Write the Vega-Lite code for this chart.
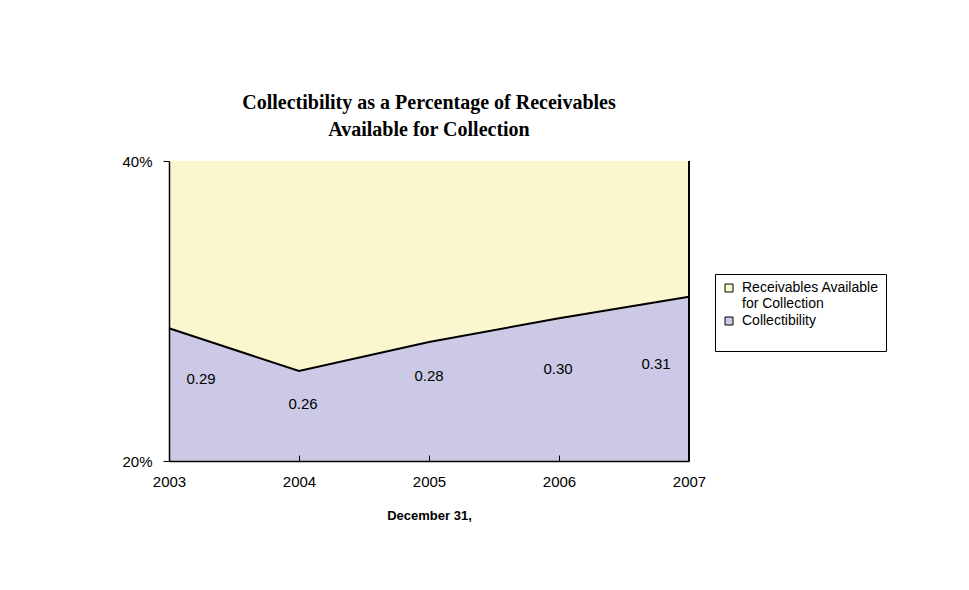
{
  "$schema": "https://vega.github.io/schema/vega-lite/v6.json",
  "width": 520,
  "height": 300,
  "autosize": {"type": "none"},
  "padding": {"left": 169, "top": 161, "right": 280, "bottom": 129},
  "background": "white",
  "config": {"view": {"stroke": null}},
  "title": {
    "text": ["Collectibility as a Percentage of Receivables", "Available for Collection"],
    "font": "Liberation Serif",
    "fontSize": 20,
    "fontWeight": "bold",
    "color": "black",
    "anchor": "middle",
    "frame": "group",
    "offset": 14,
    "lineHeight": 27
  },
  "data": {
    "values": [
      {"year": 2003, "collectibility": 0.2885, "label": "0.29"},
      {"year": 2004, "collectibility": 0.26, "label": "0.26"},
      {"year": 2005, "collectibility": 0.2793, "label": "0.28"},
      {"year": 2006, "collectibility": 0.2952, "label": "0.30"},
      {"year": 2007, "collectibility": 0.3095, "label": "0.31"}
    ]
  },
  "encoding": {
    "x": {
      "field": "year",
      "type": "quantitative",
      "scale": {"domain": [2003, 2007], "nice": false, "zero": false},
      "axis": {
        "values": [2003, 2004, 2005, 2006, 2007],
        "format": "d",
        "title": "December 31,",
        "titleFont": "Liberation Sans",
        "titleFontSize": 13,
        "titleFontWeight": "bold",
        "titleColor": "black",
        "titlePadding": 20,
        "labelFont": "Liberation Sans",
        "labelFontSize": 15,
        "labelColor": "black",
        "labelPadding": 19,
        "labelFlush": false,
        "tickColor": "black",
        "tickSize": -6,
        "domainColor": "black",
        "domainWidth": 1.5,
        "grid": false,
        "zindex": 1
      }
    }
  },
  "layer": [
    {
      "mark": {"type": "area", "opacity": 1},
      "encoding": {
        "y": {
          "field": "collectibility",
          "type": "quantitative",
          "scale": {"domain": [0.2, 0.4], "nice": false, "zero": false},
          "axis": {
            "values": [0.2, 0.4],
            "format": ".0%",
            "title": null,
            "labelFont": "Liberation Sans",
            "labelFontSize": 15,
            "labelColor": "black",
            "labelPadding": 11,
            "tickColor": "black",
            "tickSize": 6,
            "domainColor": "black",
            "domainWidth": 1.5,
            "grid": false,
            "zindex": 1
          }
        },
        "y2": {"datum": 0.4},
        "color": {
          "datum": "Receivables Available for Collection",
          "type": "nominal",
          "scale": {
            "domain": ["Receivables Available for Collection", "Collectibility"],
            "range": ["#FAF7CE", "#CBC9E5"]
          },
          "legend": {
            "title": null,
            "orient": "none",
            "legendX": 546,
            "legendY": 113,
            "strokeColor": "black",
            "fillColor": "white",
            "padding": 7,
            "symbolType": "square",
            "symbolSize": 64,
            "symbolStrokeColor": "black",
            "symbolStrokeWidth": 1,
            "symbolOpacity": 1,
            "labelFont": "Liberation Sans",
            "labelFontSize": 14,
            "labelColor": "black",
            "labelLimit": 300,
            "labelOffset": 6,
            "rowPadding": 3,
            "labelExpr": "datum.label == 'Receivables Available for Collection' ? ['Receivables Available\u00a0\u00a0\u00a0\u00a0\u00a0', 'for Collection'] : [datum.label, '\u00a0']"
          }
        }
      }
    },
    {
      "mark": {"type": "area", "opacity": 1},
      "encoding": {
        "y": {"field": "collectibility", "type": "quantitative"},
        "y2": {"datum": 0.2},
        "color": {"datum": "Collectibility", "type": "nominal"}
      }
    },
    {
      "mark": {"type": "line", "color": "black", "strokeWidth": 2},
      "encoding": {
        "y": {"field": "collectibility", "type": "quantitative"}
      }
    },
    {
      "mark": {"type": "rule", "color": "black", "strokeWidth": 1.5},
      "encoding": {
        "x": {"datum": 2007},
        "y": {"datum": 0.2},
        "y2": {"datum": 0.4}
      }
    },
    {
      "transform": [{"filter": "datum.year == 2003"}],
      "mark": {"type": "text", "font": "Liberation Sans", "fontSize": 15, "color": "black", "dx": 32, "dy": 51},
      "encoding": {"y": {"field": "collectibility", "type": "quantitative"}, "text": {"field": "label"}}
    },
    {
      "transform": [{"filter": "datum.year == 2004"}],
      "mark": {"type": "text", "font": "Liberation Sans", "fontSize": 15, "color": "black", "dx": 4, "dy": 33},
      "encoding": {"y": {"field": "collectibility", "type": "quantitative"}, "text": {"field": "label"}}
    },
    {
      "transform": [{"filter": "datum.year == 2005"}],
      "mark": {"type": "text", "font": "Liberation Sans", "fontSize": 15, "color": "black", "dx": 0, "dy": 34},
      "encoding": {"y": {"field": "collectibility", "type": "quantitative"}, "text": {"field": "label"}}
    },
    {
      "transform": [{"filter": "datum.year == 2006"}],
      "mark": {"type": "text", "font": "Liberation Sans", "fontSize": 15, "color": "black", "dx": -1, "dy": 51},
      "encoding": {"y": {"field": "collectibility", "type": "quantitative"}, "text": {"field": "label"}}
    },
    {
      "transform": [{"filter": "datum.year == 2007"}],
      "mark": {"type": "text", "font": "Liberation Sans", "fontSize": 15, "color": "black", "dx": -33, "dy": 67},
      "encoding": {"y": {"field": "collectibility", "type": "quantitative"}, "text": {"field": "label"}}
    }
  ]
}
